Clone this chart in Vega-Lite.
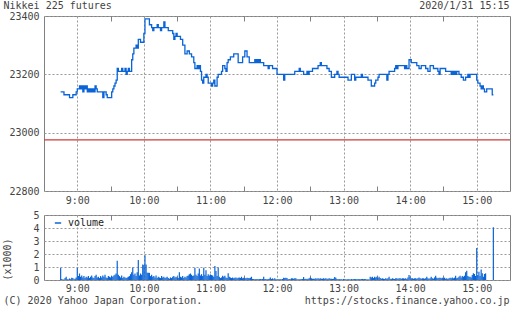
{
"$schema": "https://vega.github.io/schema/vega-lite/v6.json",
"background": "white",
"padding": {"left": 2, "top": 0, "right": 0, "bottom": 0},
"config": {
  "font": "DejaVu Sans Mono",
  "view": {"stroke": "#808080", "strokeWidth": 1},
  "axis": {"labelFont": "DejaVu Sans Mono", "labelFontSize": 10, "labelColor": "#444", "titleFont": "DejaVu Sans Mono", "titleFontSize": 10, "titleFontWeight": "normal", "titleColor": "#444", "domain": false, "gridColor": "#999", "gridDash": [2, 2], "tickColor": "#808080"},
  "legend": {"labelFont": "DejaVu Sans Mono", "labelFontSize": 10, "labelColor": "#222"}
},
"datasets": {
  "price": [
{"t":525,"price":23140},{"t":528,"price":23130},{"t":533,"price":23120},{"t":536,"price":23130},{"t":539,"price":23140},{"t":540,"price":23150},{"t":542,"price":23160},{"t":543,"price":23150},{"t":544,"price":23160},{"t":545,"price":23140},{"t":546,"price":23160},{"t":547,"price":23150},{"t":548,"price":23160},{"t":549,"price":23140},{"t":550,"price":23150},{"t":551,"price":23140},{"t":552,"price":23150},{"t":553,"price":23140},{"t":554,"price":23150},{"t":555,"price":23140},{"t":556,"price":23160},{"t":557,"price":23150},{"t":558,"price":23140},{"t":563,"price":23120},{"t":564,"price":23140},{"t":566,"price":23130},{"t":567,"price":23120},{"t":571,"price":23140},{"t":572,"price":23150},{"t":573,"price":23160},{"t":574,"price":23170},{"t":575,"price":23180},{"t":576,"price":23220},{"t":577,"price":23210},{"t":580,"price":23220},{"t":581,"price":23210},{"t":583,"price":23220},{"t":584,"price":23200},{"t":585,"price":23210},{"t":586,"price":23220},{"t":587,"price":23210},{"t":589,"price":23250},{"t":590,"price":23270},{"t":591,"price":23290},{"t":593,"price":23300},{"t":594,"price":23290},{"t":595,"price":23320},{"t":597,"price":23310},{"t":600,"price":23340},{"t":601,"price":23390},{"t":605,"price":23370},{"t":607,"price":23360},{"t":608,"price":23350},{"t":609,"price":23360},{"t":612,"price":23370},{"t":613,"price":23360},{"t":615,"price":23350},{"t":616,"price":23360},{"t":618,"price":23380},{"t":619,"price":23360},{"t":622,"price":23350},{"t":626,"price":23340},{"t":627,"price":23320},{"t":628,"price":23330},{"t":629,"price":23340},{"t":630,"price":23330},{"t":633,"price":23320},{"t":635,"price":23300},{"t":637,"price":23270},{"t":639,"price":23280},{"t":641,"price":23270},{"t":643,"price":23260},{"t":645,"price":23240},{"t":646,"price":23220},{"t":648,"price":23230},{"t":649,"price":23220},{"t":650,"price":23230},{"t":651,"price":23210},{"t":652,"price":23180},{"t":653,"price":23170},{"t":654,"price":23190},{"t":656,"price":23200},{"t":657,"price":23190},{"t":658,"price":23170},{"t":661,"price":23160},{"t":662,"price":23170},{"t":663,"price":23180},{"t":664,"price":23160},{"t":666,"price":23190},{"t":667,"price":23200},{"t":670,"price":23210},{"t":671,"price":23230},{"t":673,"price":23220},{"t":674,"price":23210},{"t":675,"price":23240},{"t":676,"price":23250},{"t":678,"price":23260},{"t":681,"price":23270},{"t":685,"price":23240},{"t":689,"price":23260},{"t":691,"price":23280},{"t":693,"price":23260},{"t":695,"price":23240},{"t":700,"price":23250},{"t":701,"price":23240},{"t":702,"price":23250},{"t":703,"price":23240},{"t":704,"price":23250},{"t":705,"price":23240},{"t":708,"price":23230},{"t":712,"price":23220},{"t":713,"price":23230},{"t":716,"price":23220},{"t":720,"price":23200},{"t":726,"price":23180},{"t":727,"price":23200},{"t":736,"price":23210},{"t":740,"price":23220},{"t":741,"price":23210},{"t":744,"price":23200},{"t":747,"price":23210},{"t":748,"price":23200},{"t":749,"price":23210},{"t":752,"price":23220},{"t":757,"price":23230},{"t":759,"price":23240},{"t":760,"price":23230},{"t":765,"price":23220},{"t":767,"price":23210},{"t":769,"price":23190},{"t":772,"price":23200},{"t":774,"price":23210},{"t":775,"price":23200},{"t":776,"price":23190},{"t":784,"price":23180},{"t":787,"price":23200},{"t":790,"price":23180},{"t":791,"price":23190},{"t":796,"price":23200},{"t":797,"price":23190},{"t":802,"price":23180},{"t":805,"price":23160},{"t":808,"price":23170},{"t":809,"price":23180},{"t":811,"price":23190},{"t":812,"price":23200},{"t":819,"price":23180},{"t":820,"price":23200},{"t":821,"price":23210},{"t":826,"price":23220},{"t":827,"price":23230},{"t":828,"price":23220},{"t":829,"price":23230},{"t":835,"price":23220},{"t":836,"price":23230},{"t":837,"price":23220},{"t":839,"price":23250},{"t":841,"price":23240},{"t":846,"price":23230},{"t":848,"price":23220},{"t":850,"price":23230},{"t":854,"price":23220},{"t":856,"price":23210},{"t":858,"price":23230},{"t":861,"price":23220},{"t":865,"price":23210},{"t":866,"price":23200},{"t":867,"price":23220},{"t":872,"price":23210},{"t":877,"price":23200},{"t":878,"price":23210},{"t":879,"price":23200},{"t":880,"price":23210},{"t":881,"price":23200},{"t":882,"price":23210},{"t":884,"price":23200},{"t":886,"price":23190},{"t":888,"price":23180},{"t":890,"price":23190},{"t":892,"price":23200},{"t":893,"price":23190},{"t":894,"price":23200},{"t":900,"price":23180},{"t":901,"price":23170},{"t":903,"price":23160},{"t":904,"price":23150},{"t":905,"price":23160},{"t":906,"price":23150},{"t":907,"price":23140},{"t":909,"price":23150},{"t":914,"price":23130},{"t":915,"price":23130}
  ],
  "volume": [
{"t":525,"volume":940},{"t":526,"volume":80},{"t":527,"volume":40},{"t":528,"volume":30},{"t":529,"volume":150},{"t":530,"volume":250},{"t":531,"volume":60},{"t":532,"volume":40},{"t":533,"volume":120},{"t":534,"volume":50},{"t":535,"volume":180},{"t":536,"volume":150},{"t":537,"volume":60},{"t":538,"volume":100},{"t":539,"volume":200},
{"t":540,"volume":940},{"t":541,"volume":300},{"t":542,"volume":500},{"t":543,"volume":250},{"t":544,"volume":350},{"t":545,"volume":200},{"t":546,"volume":300},{"t":547,"volume":150},{"t":548,"volume":250},{"t":549,"volume":200},{"t":550,"volume":300},{"t":551,"volume":150},{"t":552,"volume":250},{"t":553,"volume":350},{"t":554,"volume":200},{"t":555,"volume":150},{"t":556,"volume":300},{"t":557,"volume":400},{"t":558,"volume":200},{"t":559,"volume":250},{"t":560,"volume":150},{"t":561,"volume":300},{"t":562,"volume":200},{"t":563,"volume":350},{"t":564,"volume":250},{"t":565,"volume":400},{"t":566,"volume":200},{"t":567,"volume":150},{"t":568,"volume":300},{"t":569,"volume":250},{"t":570,"volume":200},{"t":571,"volume":300},{"t":572,"volume":250},{"t":573,"volume":350},{"t":574,"volume":400},{"t":575,"volume":500},{"t":576,"volume":1480},{"t":577,"volume":400},{"t":578,"volume":300},{"t":579,"volume":200},{"t":580,"volume":350},{"t":581,"volume":150},{"t":582,"volume":250},{"t":583,"volume":200},{"t":584,"volume":150},{"t":585,"volume":200},{"t":586,"volume":250},{"t":587,"volume":300},{"t":588,"volume":450},{"t":589,"volume":600},{"t":590,"volume":970},{"t":591,"volume":400},{"t":592,"volume":500},{"t":593,"volume":300},{"t":594,"volume":600},{"t":595,"volume":1530},{"t":596,"volume":350},{"t":597,"volume":500},{"t":598,"volume":400},{"t":599,"volume":1200},{"t":600,"volume":1150},{"t":601,"volume":1900},{"t":602,"volume":1200},{"t":603,"volume":560},{"t":604,"volume":560},{"t":605,"volume":550},{"t":606,"volume":300},{"t":607,"volume":400},{"t":608,"volume":250},{"t":609,"volume":300},{"t":610,"volume":200},{"t":611,"volume":350},{"t":612,"volume":150},{"t":613,"volume":250},{"t":614,"volume":200},{"t":615,"volume":150},{"t":616,"volume":300},{"t":617,"volume":200},{"t":618,"volume":250},{"t":619,"volume":150},{"t":620,"volume":200},{"t":621,"volume":250},{"t":622,"volume":150},{"t":623,"volume":100},{"t":624,"volume":200},{"t":625,"volume":150},{"t":626,"volume":250},{"t":627,"volume":300},{"t":628,"volume":200},{"t":629,"volume":250},{"t":630,"volume":200},{"t":631,"volume":150},{"t":632,"volume":590},{"t":633,"volume":250},{"t":634,"volume":200},{"t":635,"volume":300},{"t":636,"volume":150},{"t":637,"volume":250},{"t":638,"volume":200},{"t":639,"volume":300},{"t":640,"volume":350},{"t":641,"volume":450},{"t":642,"volume":500},{"t":643,"volume":400},{"t":644,"volume":300},{"t":645,"volume":350},{"t":646,"volume":940},{"t":647,"volume":400},{"t":648,"volume":300},{"t":649,"volume":500},{"t":650,"volume":890},{"t":651,"volume":350},{"t":652,"volume":450},{"t":653,"volume":300},{"t":654,"volume":940},{"t":655,"volume":400},{"t":656,"volume":750},{"t":657,"volume":300},{"t":658,"volume":450},{"t":659,"volume":350},{"t":660,"volume":430},{"t":661,"volume":380},
{"t":662,"volume":350},{"t":663,"volume":250},{"t":664,"volume":1070},{"t":665,"volume":690},{"t":666,"volume":300},{"t":667,"volume":970},{"t":668,"volume":250},{"t":669,"volume":150},{"t":670,"volume":200},{"t":671,"volume":320},{"t":672,"volume":250},{"t":673,"volume":330},{"t":674,"volume":200},{"t":675,"volume":150},{"t":676,"volume":510},{"t":677,"volume":250},{"t":678,"volume":200},{"t":679,"volume":150},{"t":680,"volume":200},{"t":681,"volume":130},{"t":682,"volume":180},{"t":683,"volume":200},{"t":684,"volume":130},{"t":685,"volume":180},{"t":686,"volume":200},{"t":687,"volume":150},{"t":688,"volume":250},{"t":689,"volume":130},{"t":690,"volume":180},{"t":691,"volume":150},{"t":692,"volume":130},{"t":693,"volume":180},{"t":694,"volume":150},{"t":695,"volume":130},{"t":696,"volume":180},{"t":697,"volume":250},{"t":698,"volume":80},{"t":699,"volume":80},{"t":700,"volume":60},{"t":701,"volume":80},{"t":702,"volume":80},{"t":703,"volume":60},{"t":704,"volume":80},{"t":705,"volume":80},{"t":706,"volume":60},{"t":707,"volume":80},{"t":708,"volume":250},{"t":709,"volume":80},{"t":710,"volume":80},{"t":711,"volume":60},{"t":712,"volume":80},{"t":713,"volume":100},{"t":714,"volume":200},{"t":715,"volume":80},{"t":716,"volume":130},{"t":717,"volume":60},{"t":718,"volume":130},{"t":719,"volume":50},{"t":720,"volume":50},{"t":721,"volume":60},{"t":722,"volume":50},{"t":723,"volume":60},{"t":724,"volume":50},{"t":725,"volume":80},{"t":726,"volume":180},{"t":727,"volume":150},{"t":728,"volume":180},{"t":729,"volume":160},{"t":730,"volume":60},{"t":731,"volume":80},{"t":732,"volume":60},{"t":733,"volume":130},{"t":734,"volume":130},{"t":735,"volume":100},{"t":736,"volume":130},{"t":737,"volume":130},{"t":738,"volume":60},{"t":739,"volume":50},{"t":740,"volume":60},{"t":741,"volume":50},{"t":742,"volume":60},{"t":743,"volume":80},{"t":744,"volume":230},{"t":745,"volume":80},{"t":746,"volume":100},{"t":747,"volume":80},{"t":748,"volume":100},{"t":749,"volume":130},{"t":750,"volume":200},{"t":751,"volume":130},{"t":752,"volume":100},{"t":753,"volume":100},{"t":754,"volume":100},{"t":755,"volume":130},{"t":756,"volume":100},{"t":757,"volume":130},{"t":758,"volume":100},{"t":759,"volume":130},{"t":760,"volume":100},{"t":761,"volume":100},{"t":762,"volume":130},{"t":763,"volume":100},{"t":764,"volume":130},{"t":765,"volume":100},{"t":766,"volume":100},{"t":767,"volume":130},{"t":768,"volume":100},{"t":769,"volume":100},{"t":770,"volume":80},{"t":771,"volume":100},{"t":772,"volume":230},{"t":773,"volume":180},{"t":774,"volume":80},{"t":775,"volume":60},{"t":776,"volume":80},{"t":777,"volume":50},{"t":778,"volume":60},{"t":779,"volume":40},{"t":780,"volume":80},{"t":781,"volume":50},{"t":782,"volume":60},{"t":783,"volume":40},{"t":784,"volume":80},{"t":785,"volume":60},{"t":786,"volume":40},{"t":787,"volume":80},{"t":788,"volume":50},{"t":789,"volume":60},{"t":790,"volume":80},{"t":791,"volume":80},{"t":792,"volume":60},{"t":793,"volume":80},{"t":794,"volume":80},{"t":795,"volume":60},{"t":796,"volume":80},{"t":797,"volume":80},{"t":798,"volume":60},{"t":799,"volume":80},{"t":800,"volume":80},{"t":801,"volume":40},{"t":802,"volume":60},{"t":803,"volume":40},{"t":804,"volume":250},{"t":805,"volume":200},{"t":806,"volume":250},{"t":807,"volume":150},{"t":808,"volume":250},{"t":809,"volume":200},{"t":810,"volume":250},{"t":811,"volume":150},{"t":812,"volume":250},{"t":813,"volume":150},{"t":814,"volume":100},{"t":815,"volume":130},{"t":816,"volume":100},{"t":817,"volume":80},{"t":818,"volume":130},{"t":819,"volume":100},{"t":820,"volume":130},{"t":821,"volume":250},{"t":822,"volume":100},{"t":823,"volume":80},{"t":824,"volume":130},{"t":825,"volume":100},{"t":826,"volume":80},{"t":827,"volume":130},{"t":828,"volume":130},{"t":829,"volume":100},{"t":830,"volume":130},{"t":831,"volume":130},{"t":832,"volume":100},{"t":833,"volume":130},{"t":834,"volume":130},{"t":835,"volume":100},{"t":836,"volume":130},{"t":837,"volume":80},{"t":838,"volume":200},{"t":839,"volume":380},{"t":840,"volume":250},{"t":841,"volume":130},{"t":842,"volume":130},{"t":843,"volume":100},{"t":844,"volume":130},{"t":845,"volume":130},{"t":846,"volume":100},{"t":847,"volume":130},{"t":848,"volume":200},{"t":849,"volume":130},{"t":850,"volume":100},{"t":851,"volume":130},{"t":852,"volume":130},{"t":853,"volume":100},{"t":854,"volume":130},{"t":855,"volume":250},{"t":856,"volume":130},{"t":857,"volume":100},{"t":858,"volume":130},{"t":859,"volume":250},{"t":860,"volume":130},{"t":861,"volume":100},{"t":862,"volume":200},{"t":863,"volume":330},{"t":864,"volume":180},{"t":865,"volume":130},{"t":866,"volume":180},{"t":867,"volume":180},{"t":868,"volume":130},{"t":869,"volume":180},{"t":870,"volume":130},{"t":871,"volume":180},{"t":872,"volume":100},{"t":873,"volume":130},{"t":874,"volume":80},{"t":875,"volume":130},{"t":876,"volume":180},{"t":877,"volume":130},{"t":878,"volume":200},{"t":879,"volume":130},{"t":880,"volume":180},{"t":881,"volume":330},{"t":882,"volume":130},{"t":883,"volume":180},{"t":884,"volume":250},{"t":885,"volume":330},{"t":886,"volume":200},{"t":887,"volume":300},{"t":888,"volume":250},{"t":889,"volume":330},{"t":890,"volume":590},{"t":891,"volume":710},{"t":892,"volume":300},{"t":893,"volume":250},{"t":894,"volume":250},{"t":895,"volume":200},{"t":896,"volume":380},{"t":897,"volume":510},{"t":898,"volume":460},{"t":899,"volume":300},{"t":900,"volume":2470},{"t":901,"volume":380},{"t":902,"volume":640},{"t":903,"volume":300},{"t":904,"volume":810},{"t":905,"volume":510},{"t":906,"volume":250},{"t":907,"volume":460},{"t":908,"volume":510},{"t":915,"volume":4050}
  ],
  "prevclose": [{"close": 22975}]
},
"spacing": 24,
"bounds": "flush",
"resolve": {"legend": {"color": "independent"}},
"vconcat": [
  {
    "width": 466,
    "height": 175,
    "layer": [
      {
        "data": {"name": "price"},
        "mark": {"type": "line", "interpolate": "step-after", "color": "#0a64d8", "strokeWidth": 1.3},
        "encoding": {
          "x": {"field": "t", "type": "quantitative", "scale": {"domain": [510, 930], "nice": false, "zero": false},
                "axis": {"orient": "bottom", "values": [540, 570, 600, 630, 660, 690, 720, 750, 780, 810, 840, 870, 900],
                         "labelExpr": "datum.value % 60 == 0 ? floor(datum.value / 60) + ':00' : ''",
                         "grid": true, "gridOpacity": {"condition": {"test": "datum.value % 60 != 0", "value": 0}, "value": 1},
                         "ticks": true, "tickSize": -5, "tickOpacity": {"condition": {"test": "datum.value % 60 == 0", "value": 0}, "value": 1},
                         "labelPadding": 9, "title": null}},
          "y": {"field": "price", "type": "quantitative", "scale": {"domain": [22800, 23400], "nice": false, "zero": false},
                "axis": {"values": [22800, 23000, 23200, 23400], "format": "d", "grid": true, "ticks": false, "labelPadding": 5,
                         "title": "Nikkei 225 futures", "titleAngle": 0, "titleX": -41, "titleY": -7.5, "titleAlign": "left", "titleBaseline": "alphabetic"}}
        }
      },
      {
        "data": {"name": "prevclose"},
        "mark": {"type": "rule", "color": "#d03a3a", "strokeWidth": 1.2},
        "encoding": {
          "y": {"field": "close", "type": "quantitative",
                "axis": {"values": [22800, 23000, 23200, 23400], "format": "d", "grid": true, "ticks": false, "labelPadding": 5,
                         "title": "Nikkei 225 futures", "titleAngle": 0, "titleX": -41, "titleY": -7.5, "titleAlign": "left", "titleBaseline": "alphabetic"}}
        }
      },
      {
        "data": {"name": "price"},
        "mark": {"type": "line", "opacity": 0},
        "encoding": {
          "x": {"field": "t", "type": "quantitative",
                "axis": {"orient": "top", "values": [540, 570, 600, 630, 660, 690, 720, 750, 780, 810, 840, 870, 900],
                         "labels": false, "grid": false, "ticks": true, "tickSize": -5,
                         "tickOpacity": {"condition": {"test": "datum.value % 60 == 0", "value": 0}, "value": 1},
                         "title": "2020/1/31 15:15", "titleX": 465, "titleY": -7.5, "titleAlign": "right", "titleBaseline": "alphabetic"}}
        }
      }
    ]
  },
  {
    "width": 466,
    "height": 65,
    "layer": [
      {
        "data": {"name": "volume"},
        "mark": {"type": "rule", "strokeWidth": 1.2},
        "encoding": {
          "x": {"field": "t", "type": "quantitative", "scale": {"domain": [510, 930], "nice": false, "zero": false},
                "axis": {"orient": "bottom", "values": [540, 570, 600, 630, 660, 690, 720, 750, 780, 810, 840, 870, 900],
                         "labelExpr": "datum.value % 60 == 0 ? floor(datum.value / 60) + ':00' : ''",
                         "grid": true, "gridOpacity": {"condition": {"test": "datum.value % 60 != 0", "value": 0}, "value": 1},
                         "ticks": true, "tickSize": -5, "tickOpacity": {"condition": {"test": "datum.value % 60 == 0", "value": 0}, "value": 1},
                         "labelPadding": 8,
                         "title": "(C) 2020 Yahoo Japan Corporation.", "titleX": -41, "titleY": 23, "titleAlign": "left", "titleBaseline": "alphabetic"}},
          "y": {"field": "volume", "type": "quantitative", "scale": {"domain": [0, 5000], "nice": false},
                "axis": {"values": [0, 1000, 2000, 3000, 4000, 5000], "labelExpr": "datum.value / 1000", "grid": true, "ticks": false, "labelPadding": 5,
                         "title": "(x1000)", "titleAngle": -90, "titleX": -36.5, "titleY": 65, "titleAlign": "left", "titleBaseline": "middle"}},
          "y2": {"datum": 0},
          "color": {"datum": "volume", "scale": {"range": ["#0a64d8"]},
                    "legend": {"orient": "none", "legendX": 9, "legendY": 3, "title": null, "symbolType": "stroke", "symbolSize": 40, "symbolStrokeWidth": 1.5, "labelOffset": 5, "padding": 0}}
        }
      },
      {
        "data": {"name": "volume"},
        "mark": {"type": "rule", "opacity": 0},
        "encoding": {
          "x": {"field": "t", "type": "quantitative",
                "axis": {"orient": "top", "values": [540, 570, 600, 630, 660, 690, 720, 750, 780, 810, 840, 870, 900],
                         "labels": false, "grid": false, "ticks": true, "tickSize": -5,
                         "tickOpacity": {"condition": {"test": "datum.value % 60 == 0", "value": 0}, "value": 1},
                         "title": "https://stocks.finance.yahoo.co.jp", "titleX": 465, "titleY": 88, "titleAlign": "right", "titleBaseline": "alphabetic"}}
        }
      }
    ]
  }
]
}
